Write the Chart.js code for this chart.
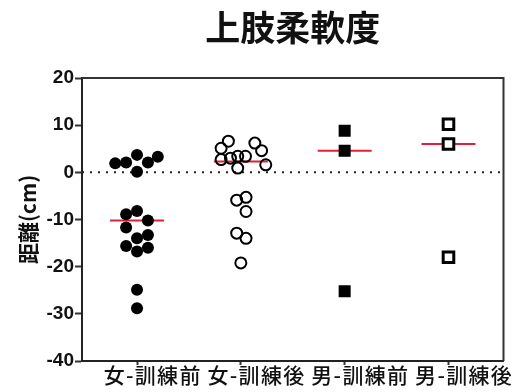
<!DOCTYPE html>
<html>
<head>
<meta charset="utf-8">
<script src="https://cdn.jsdelivr.net/npm/chart.js@4.4.1/dist/chart.umd.min.js"></script>
<style>
  html, body { margin: 0; padding: 0; background: #fff; }
  #wrap { width: 514px; height: 392px; }
</style>
</head>
<body>
<div id="wrap"><canvas id="c" width="514" height="392"></canvas></div>
<script>
// Groups along the x axis
const groups = ['女-訓練前', '女-訓練後', '男-訓練前', '男-訓練後'];
const yTickValues = [20, 10, 0, -10, -20, -30, -40];

// Upper-limb flexibility distance (cm), one value per subject
const femalePre = [1.9, 2.1, 3.7, 2.1, 3.3, 0.1, -8.9, -8.2, -10.2, -11.7, -13.3, -14.0, -15.6, -16.8, -16.0, -24.9, -28.8];
const femalePreSpread = [-0.21, -0.105, 0, 0.105, 0.2, 0, -0.105, 0, 0.105, -0.105, 0.105, 0, -0.105, 0, 0.105, 0, 0];

const femalePost = [6.6, 5.1, 2.7, 3.0, 3.4, 3.4, 6.2, 4.6, 1.6, 0.9, -5.3, -5.9, -8.3, -12.9, -14.0, -19.2];
const femalePostSpread = [-0.12, -0.19, -0.19, -0.1, -0.03, 0.045, 0.135, 0.2, 0.24, -0.03, 0.05, -0.04, 0.05, -0.04, 0.05, 0];

const malePre = [8.8, 4.6, -25.2];
const malePreSpread = [0, 0, 0];

const malePost = [10.2, 6.0, -18.0];
const malePostSpread = [0, 0, 0];

// Central value drawn as a short red bar for each group
const centerLines = [-10.2, 2.3, 4.6, 6.0];

const toPoints = (vals, spread, g) => vals.map((v, i) => ({ x: g + spread[i], y: v }));

const lineDatasets = centerLines.map((v, i) => ({
  type: 'scatter',
  data: [{ x: i + 1 - 0.26, y: v }, { x: i + 1 + 0.26, y: v }],
  showLine: true,
  borderColor: '#e0203c',
  borderWidth: 2,
  pointRadius: 0,
  order: 1
}));

const zeroLine = {
  type: 'scatter',
  data: [{ x: 0.47, y: 0 }, { x: 4.53, y: 0 }],
  showLine: true,
  borderColor: '#222',
  borderWidth: 2,
  borderDash: [2, 6],
  pointRadius: 0,
  order: 2
};

const pointDatasets = [
  {
    data: toPoints(femalePre, femalePreSpread, 1),
    pointStyle: 'circle', pointRadius: 6,
    backgroundColor: '#000', borderColor: '#000', borderWidth: 0
  },
  {
    data: toPoints(femalePost, femalePostSpread, 2),
    pointStyle: 'circle', pointRadius: 5.5,
    backgroundColor: 'rgba(0,0,0,0)', borderColor: '#000', borderWidth: 2
  },
  {
    data: toPoints(malePre, malePreSpread, 3),
    pointStyle: 'rect', pointRadius: 8.5,
    backgroundColor: '#000', borderColor: '#000', borderWidth: 0
  },
  {
    data: toPoints(malePost, malePostSpread, 4),
    pointStyle: 'rect', pointRadius: 7.5,
    backgroundColor: '#fff', borderColor: '#000', borderWidth: 3
  }
].map(d => Object.assign({ type: 'scatter', order: 0, pointHoverRadius: d.pointRadius }, d));

// Frame on the top and right, plus the heading
const frameAndTitle = {
  id: 'frameAndTitle',
  beforeDatasetsDraw(chart) {
    const { ctx, chartArea: a } = chart;
    ctx.save();
    ctx.strokeStyle = '#333';
    ctx.lineWidth = 2;
    ctx.beginPath();
    ctx.moveTo(a.left, a.top);
    ctx.lineTo(a.right, a.top);
    ctx.lineTo(a.right, a.bottom);
    ctx.stroke();
    ctx.restore();
  },
  afterDraw(chart) {
    const { ctx, chartArea: a } = chart;
    ctx.save();
    ctx.fillStyle = '#111';
    ctx.font = 'bold 35px "Noto Sans CJK JP"';
    ctx.textAlign = 'center';
    ctx.textBaseline = 'middle';
    ctx.fillText('上肢柔軟度', (a.left + a.right) / 2, 28);
    ctx.restore();
  }
};

new Chart(document.getElementById('c'), {
  type: 'scatter',
  data: { datasets: [...pointDatasets, ...lineDatasets, zeroLine] },
  options: {
    responsive: false,
    devicePixelRatio: 1,
    animation: false,
    layout: { padding: { top: 78, right: 10, bottom: 0, left: 0 } },
    plugins: { legend: { display: false }, tooltip: { enabled: false } },
    scales: {
      x: {
        type: 'linear',
        min: 0.47,
        max: 4.53,
        afterBuildTicks(scale) { scale.ticks = groups.map((_, i) => ({ value: i + 1 })); },
        afterFit(scale) { scale.height = 31; },
        ticks: {
          callback: v => (groups[v - 1] || '').split('').join('\u200A'),
          autoSkip: false,
          maxRotation: 0,
          padding: -3,
          labelOffset: 15,
          color: '#111',
          font: { family: '"Noto Sans CJK JP"', size: 21, weight: '500' }
        },
        grid: { drawOnChartArea: false, tickLength: 4, tickWidth: 2, tickColor: '#333' },
        border: { color: '#222', width: 2 }
      },
      y: {
        min: -40,
        max: 20,
        afterBuildTicks(scale) { scale.ticks = yTickValues.map(v => ({ value: v })); },
        afterFit(scale) { scale.width = 82; },
        ticks: {
          padding: 1,
          color: '#111',
          font: { family: '"Liberation Sans", Arial', size: 19, weight: 'bold' }
        },
        grid: { drawOnChartArea: false, tickLength: 7, tickWidth: 2, tickColor: '#333' },
        border: { color: '#222', width: 2 },
        title: {
          display: true,
          text: '距離(cm)',
          color: '#111',
          padding: { top: 15, bottom: 0 },
          font: { family: '"Noto Sans CJK JP"', size: 21, weight: 'bold' }
        }
      }
    }
  },
  plugins: [frameAndTitle]
});
</script>
</body>
</html>
